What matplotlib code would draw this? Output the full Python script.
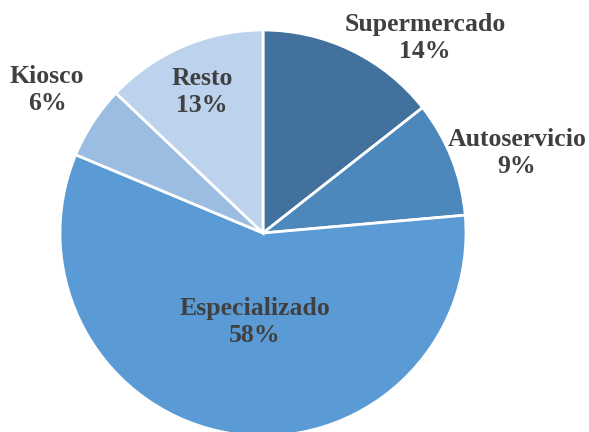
import matplotlib
matplotlib.use("Agg")
import matplotlib.pyplot as plt

categories = ["Supermercado", "Autoservicio", "Especializado", "Kiosco", "Resto"]
values = [14.4, 9.2, 57.7, 5.8, 12.9]
colors = ["#41719C", "#4D88BD", "#5B9BD5", "#9CBDE2", "#BDD2EC"]

# label positions in pixel coordinates (center of two-line label)
label_px = [(425, 38), (517, 153), (255, 322), (47, 90), (202, 92)]

W, H = 589, 432
cx, cy, R = 263, 233, 203

fig = plt.figure(figsize=(W / 100, H / 100), dpi=100)
ax = fig.add_axes([0, 0, 1, 1])

ax.pie(values, colors=colors, startangle=90, counterclock=False, radius=1.0,
       wedgeprops=dict(edgecolor="white", linewidth=2.0))
ax.set_xlim(-cx / R, (W - cx) / R)
ax.set_ylim((cy - H) / R, cy / R)
ax.set_aspect("equal")
ax.axis("off")

for cat, v, (px, py) in zip(categories, values, label_px):
    ax.text((px - cx) / R, (cy - py) / R, f"{cat}\n{v:.0f}%", ha="center", va="center",
            fontsize=18.5, fontweight="bold", family="Liberation Serif", color="#404040",
            linespacing=1.25)

fig.savefig("out.png", dpi=100)
